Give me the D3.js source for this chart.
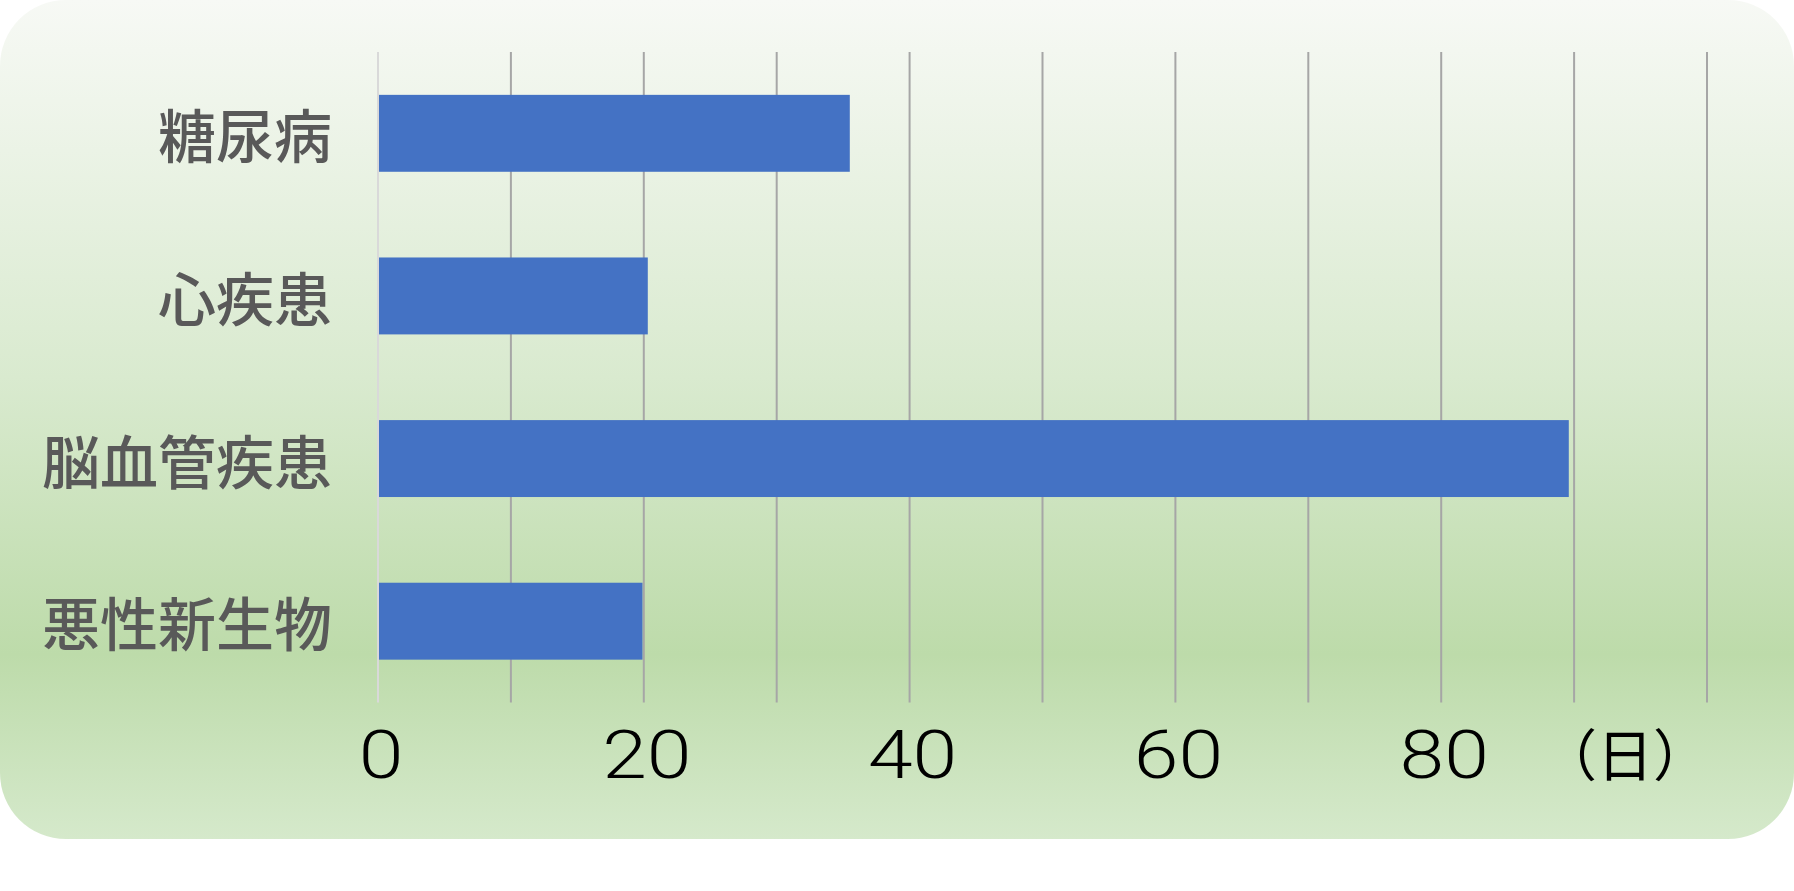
<!DOCTYPE html>
<html>
<head>
<meta charset="utf-8">
<script src="https://cdn.jsdelivr.net/npm/d3@7"></script>
<style>
  html, body { margin: 0; padding: 0; background: #ffffff; }
  svg { display: block; }
</style>
</head>
<body>
<svg id="chart" width="1794" height="891"></svg>
<script>
const categories = ["糖尿病", "心疾患", "脳血管疾患", "悪性新生物"];
const values = [35.5, 20.3, 89.6, 19.9];
const tickValues = [0, 20, 40, 60, 80];
const gridValues = [0, 10, 20, 30, 40, 50, 60, 70, 80, 90, 100];
const unitLabel = "（日）";

const W = 1794, H = 891;
const svg = d3.select("#chart");

// background gradient
const defs = svg.append("defs");
const grad = defs.append("linearGradient")
  .attr("id", "bg").attr("x1", 0).attr("y1", 0).attr("x2", 0).attr("y2", 1);
grad.append("stop").attr("offset", "0%").attr("stop-color", "#f7f9f5");
grad.append("stop").attr("offset", "45%").attr("stop-color", "#d9eacf");
grad.append("stop").attr("offset", "78%").attr("stop-color", "#bddbaa");
grad.append("stop").attr("offset", "100%").attr("stop-color", "#d5e9cb");

svg.append("rect")
  .attr("x", 0).attr("y", 0)
  .attr("width", W).attr("height", 839)
  .attr("rx", 66).attr("ry", 66)
  .attr("fill", "url(#bg)");

const x = d3.scaleLinear().domain([0, 100]).range([378, 1707]);
const y = d3.scaleBand().domain(categories).range([52, 702.5])
  .paddingInner(0.527).paddingOuter(0.2635);

// gridlines
svg.append("g").selectAll("line")
  .data(gridValues.filter(d => d !== 0))
  .join("line")
  .attr("x1", d => x(d)).attr("x2", d => x(d))
  .attr("y1", y.range()[0]).attr("y2", y.range()[1])
  .attr("stroke", "#a6a6a6").attr("stroke-width", 2);

// zero axis line
svg.append("line")
  .attr("x1", x(0)).attr("x2", x(0))
  .attr("y1", y.range()[0]).attr("y2", y.range()[1])
  .attr("stroke", "#d9d9d9").attr("stroke-width", 2);

// bars
svg.append("g").selectAll("rect")
  .data(categories.map((c, i) => ({ c, v: values[i] })))
  .join("rect")
  .attr("x", x(0) + 1)
  .attr("y", d => y(d.c))
  .attr("width", d => x(d.v) - x(0) - 1)
  .attr("height", y.bandwidth())
  .attr("fill", "#4472c4");

// category labels
svg.append("g").selectAll("text")
  .data(categories)
  .join("text")
  .attr("x", x(0) - 46)
  .attr("y", d => y(d) + y.bandwidth() / 2)
  .attr("text-anchor", "end")
  .attr("dominant-baseline", "central")
  .attr("font-family", "'Noto Sans CJK JP', sans-serif")
  .attr("font-size", 58)
  .attr("font-weight", 500)
  .attr("fill", "#595959")
  .text(d => d);

// x tick labels
svg.append("g").selectAll("text")
  .data(tickValues)
  .join("text")
  .attr("transform", d => `translate(${x(d) + 3},778) scale(1.22,1)`)
  .attr("text-anchor", "middle")
  .attr("font-family", "Roboto, 'DejaVu Sans', sans-serif")
  .attr("font-size", 66)
  .attr("font-weight", 300)
  .attr("fill", "#000000")
  .text(d => d);

// unit label
svg.append("text")
  .attr("x", x.range()[1] - 82)
  .attr("y", 776)
  .attr("text-anchor", "middle")
  .attr("font-family", "'Noto Sans CJK JP', sans-serif")
  .attr("font-size", 56)
  .attr("font-weight", 400)
  .attr("fill", "#000000")
  .text(unitLabel);
</script>
</body>
</html>
